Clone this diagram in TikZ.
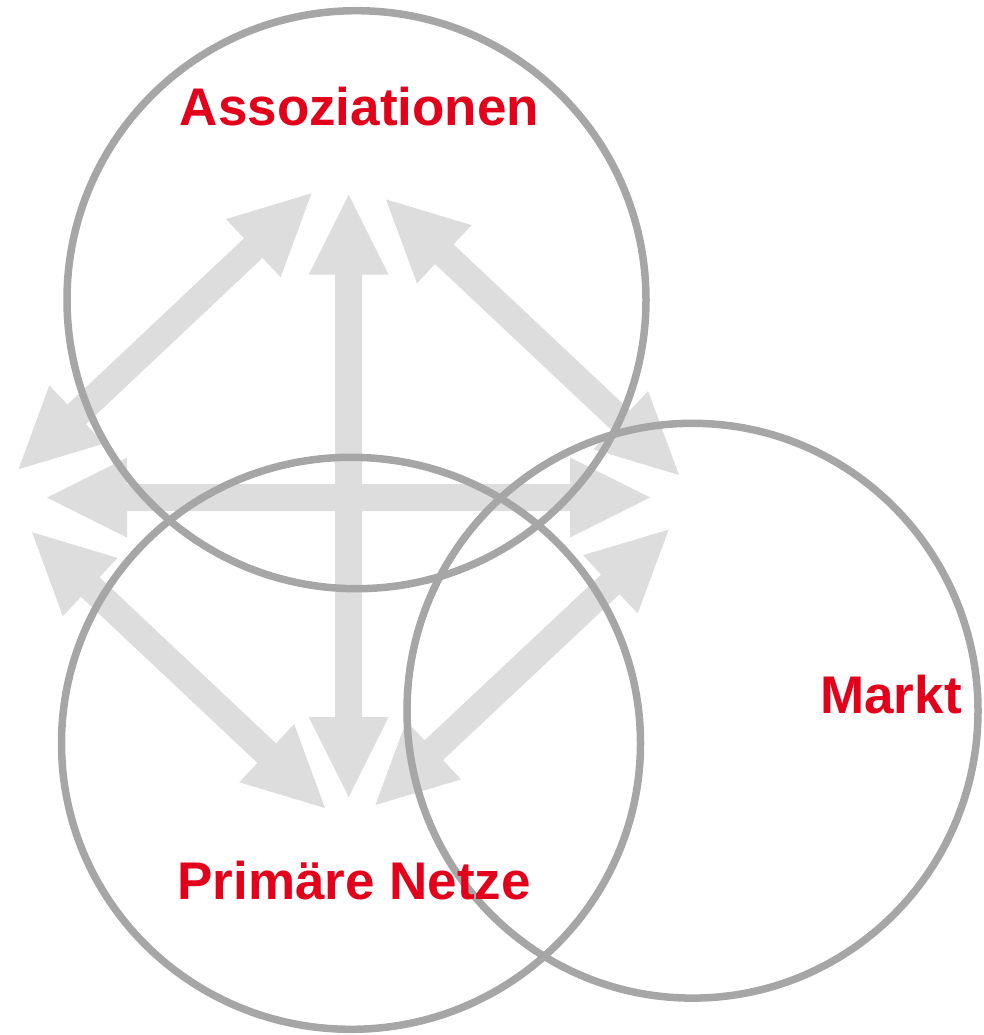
\documentclass[tikz,border=0pt]{standalone}
\usepackage{fontspec}
\setmainfont{Liberation Sans}
\usetikzlibrary{calc}
\definecolor{ringgray}{HTML}{A6A6A6}
\definecolor{arrowgray}{HTML}{DDDDDD}
\definecolor{labelred}{HTML}{E2001A}
\newcommand\hl{80pt}
\newcommand\hw{40pt}
\newcommand\sw{13.5pt}
\newcommand\dblarr[2]{%
  \fill[arrowfill] (#1)
    -- ($(#1)!\hl!(#2)!\hw!90:(#2)$)
    -- ($(#1)!\hl!(#2)!\sw!90:(#2)$)
    -- ($(#2)!\hl!(#1)!\sw!-90:(#1)$)
    -- ($(#2)!\hl!(#1)!\hw!-90:(#1)$)
    -- (#2)
    -- ($(#2)!\hl!(#1)!\hw!90:(#1)$)
    -- ($(#2)!\hl!(#1)!\sw!90:(#1)$)
    -- ($(#1)!\hl!(#2)!\sw!-90:(#2)$)
    -- ($(#1)!\hl!(#2)!\hw!-90:(#2)$)
    -- cycle;}
\begin{document}
\begin{tikzpicture}[x=1pt,y=-1pt,
  arrowfill/.style={fill=arrowgray},
  ring/.style={draw=ringgray,line width=7.5pt},
  lbl/.style={text=labelred,font=\fontsize{53}{60}\selectfont\bfseries,inner sep=0pt,anchor=base}]
\useasboundingbox (0,0) rectangle (984,1035);
% arrow end points
\coordinate (vT) at (348.7,194.7);
\coordinate (vB) at (348.7,797);
\coordinate (hL) at (47,497.5);
\coordinate (hR) at (650,497.5);
\coordinate (tlA) at (311.5,193.3);
\coordinate (tlB) at (18.5,469.3);
\coordinate (trA) at (386,199.4);
\coordinate (trB) at (679,475);
\coordinate (blA) at (32,532.2);
\coordinate (blB) at (325,808);
\coordinate (brA) at (668.7,529.6);
\coordinate (brB) at (375.4,805);
\dblarr{vT}{vB}
\dblarr{hL}{hR}
\dblarr{tlA}{tlB}
\dblarr{trA}{trB}
\dblarr{blA}{blB}
\dblarr{brA}{brB}
% circles
\draw[ring] (356.5,299.7) ellipse [x radius=289.5,y radius=289];
\draw[ring] (351,743.3) ellipse [x radius=289.5,y radius=286];
\draw[ring] (692.5,710.7) ellipse [x radius=285.5,y radius=287.4];
% labels
\node[lbl] (assoz) at (359.5,125.7) {Assoziationen};
\node[lbl] (prim) at (354.2,899.3) {Primäre Netze};
\node[lbl] (markt) at (891,713.3) {Markt};
\end{tikzpicture}
\end{document}
